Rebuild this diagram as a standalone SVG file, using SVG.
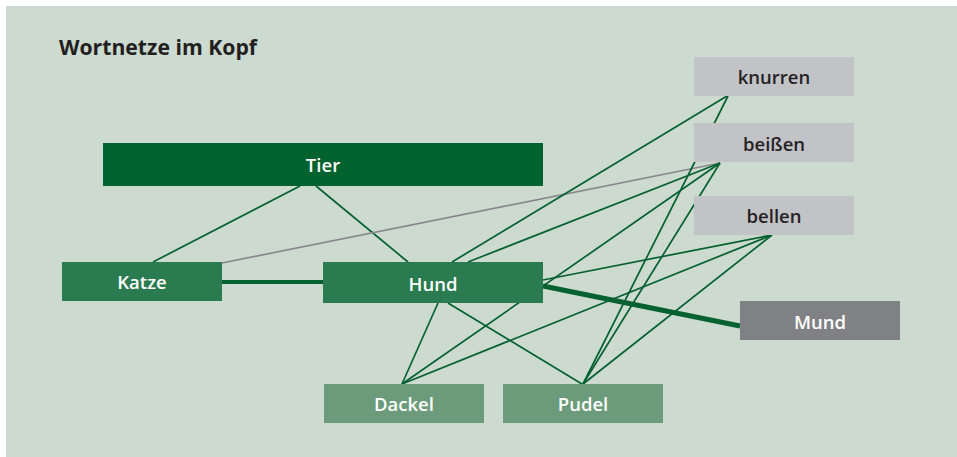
<svg xmlns="http://www.w3.org/2000/svg" width="957" height="457" viewBox="0 0 957 457">
<defs>
<style>
.bg{fill:#cddad0}
.title{font-family:"Open Sans","Liberation Sans",sans-serif;font-weight:700;font-size:21.2px;fill:#231f20}
.lbl{font-family:"Open Sans","Liberation Sans",sans-serif;font-weight:600;font-size:18.5px;text-anchor:middle}
.w{fill:#ffffff}
.d{fill:#262223}
.tier{fill:#00622f}
.mid{fill:#2b7b50}
.light{fill:#6b9b7a}
.gray{fill:#c2c3c7}
.mund{fill:#808184}
.ln{stroke:#05612f;stroke-width:1.7;fill:none}
.lg{stroke:#88898d;stroke-width:1.7;fill:none}
.thick{stroke:#05612f;stroke-width:4.5;fill:none}
</style>
</defs>
<rect class="bg" x="6" y="6" width="951" height="451"/>
<text class="title" x="59" y="55">Wortnetze im Kopf</text>
<g id="connectors">
<line class="ln" x1="300" y1="186" x2="153" y2="262"/>
<line class="ln" x1="316" y1="186" x2="408" y2="262"/>
<line class="thick" x1="222" y1="282" x2="323" y2="282" style="stroke-width:4"/>
<line class="lg" x1="222" y1="263" x2="720" y2="163"/>
<line class="ln" x1="452" y1="262" x2="727" y2="96"/>
<line class="ln" x1="468" y1="262" x2="720" y2="163"/>
<line class="ln" x1="543" y1="280" x2="772" y2="235"/>
<line class="thick" x1="543" y1="286" x2="740" y2="326" style="stroke-width:5"/>
<line class="ln" x1="438" y1="303" x2="402" y2="384"/>
<line class="ln" x1="448" y1="303" x2="582" y2="384"/>
<line class="ln" x1="402" y1="384" x2="720" y2="163"/>
<line class="ln" x1="402" y1="384" x2="772" y2="235"/>
<line class="ln" x1="583" y1="384" x2="728" y2="96"/>
<line class="ln" x1="583" y1="384" x2="720" y2="163"/>
<line class="ln" x1="583" y1="384" x2="772" y2="235"/>
</g>
<g id="tier"><rect class="tier" x="103" y="143" width="440" height="43"/><text class="lbl w" x="323" y="172">Tier</text></g>
<g id="katze"><rect class="mid" x="62" y="262" width="160" height="39"/><text class="lbl w" x="142" y="289">Katze</text></g>
<g id="hund"><rect class="mid" x="323" y="262" width="220" height="41"/><text class="lbl w" x="433" y="290.5">Hund</text></g>
<g id="dackel"><rect class="light" x="324" y="384" width="160" height="39"/><text class="lbl w" x="404" y="410.5">Dackel</text></g>
<g id="pudel"><rect class="light" x="503" y="384" width="160" height="39"/><text class="lbl w" x="583" y="410.5">Pudel</text></g>
<g id="knurren"><rect class="gray" x="694" y="57" width="160" height="39"/><text class="lbl d" x="774" y="83.5">knurren</text></g>
<g id="beissen"><rect class="gray" x="694" y="123" width="160" height="39"/><text class="lbl d" x="774" y="150.5">beißen</text></g>
<g id="bellen"><rect class="gray" x="694" y="196" width="160" height="39"/><text class="lbl d" x="774" y="223">bellen</text></g>
<g id="mund"><rect class="mund" x="740" y="301" width="160" height="39"/><text class="lbl w" x="820" y="328.5">Mund</text></g>
</svg>
